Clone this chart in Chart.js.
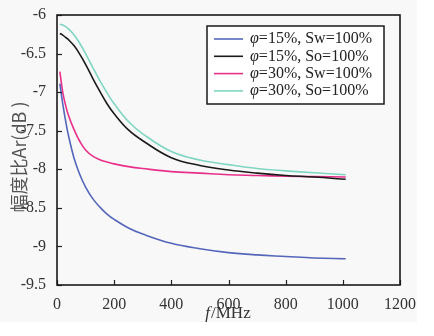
<!DOCTYPE html>
<html>
<head>
<meta charset="utf-8">
<script src="https://cdn.jsdelivr.net/npm/chart.js@4/dist/chart.umd.min.js"></script>
<style>
html,body{margin:0;padding:0;background:#ffffff;}
#wrap{position:absolute;left:0;top:0;width:434px;height:336px;}
#bg{position:absolute;left:0;top:0;width:417px;height:322px;background:#f8f8f8;}
canvas{position:absolute;left:0;top:0;}
</style>
</head>
<body>
<div id="wrap"><div id="bg"></div><canvas id="c" width="434" height="336"></canvas></div>
<script>
// Frequency samples (MHz)
const freq = [10, 20, 30, 40, 60, 80, 100, 125, 150, 175, 200, 250, 300, 400, 500, 600, 700, 800, 900, 1010];
// Amplitude ratio Ar (dB)
const phi15Sw = [-6.89, -7.15, -7.37, -7.56, -7.86, -8.07, -8.23, -8.38, -8.49, -8.58, -8.65, -8.76, -8.84, -8.96, -9.03, -9.08, -9.11, -9.13, -9.15, -9.16];
const phi15So = [-6.24, -6.26, -6.29, -6.32, -6.40, -6.51, -6.64, -6.82, -6.99, -7.15, -7.28, -7.49, -7.63, -7.85, -7.95, -8.01, -8.05, -8.08, -8.10, -8.13];
const phi30Sw = [-6.735, -7.00, -7.17, -7.30, -7.49, -7.64, -7.75, -7.83, -7.875, -7.905, -7.93, -7.965, -7.99, -8.03, -8.05, -8.07, -8.08, -8.09, -8.095, -8.10];
const phi30So = [-6.12, -6.13, -6.15, -6.18, -6.26, -6.37, -6.50, -6.68, -6.85, -7.01, -7.15, -7.38, -7.54, -7.77, -7.88, -7.94, -7.99, -8.02, -8.045, -8.07];
const seriesNames = ["=15%, Sw=100%", "=15%, So=100%", "=30%, Sw=100%", "=30%, So=100%"];
const xTicks = [0, 200, 400, 600, 800, 1000, 1200];
const xTickLabels = ["0", "200", "400", "600", "800", "1000", "1200"];
const yTicks = [-6, -6.5, -7, -7.5, -8, -8.5, -9, -9.5];
const yTickLabels = ["-6", "-6.5", "-7", "-7.5", "-8", "-8.5", "-9", "-9.5"];
const colors = ["#5566bb", "#1a1a1a", "#e8308a", "#7fd6c2"];

const allSeries = [phi15Sw, phi15So, phi30Sw, phi30So];
const datasets = allSeries.map((s, i) => ({
  label: "φ" + seriesNames[i],
  data: freq.map((f, k) => ({x: f, y: s[k]})),
  borderColor: colors[i],
  backgroundColor: colors[i],
  borderWidth: 1.6,
  pointRadius: 0,
  fill: false,
  tension: 0.4
}));

const SERIF = "'Liberation Serif', 'DejaVu Serif', serif";

const decor = {
  id: 'decor',
  afterDraw(chart) {
    const ctx = chart.ctx;
    const a = chart.chartArea;
    const xs = chart.scales.x, ys = chart.scales.y;
    ctx.save();
    ctx.strokeStyle = '#222';
    ctx.lineWidth = 1.2;
    xTicks.forEach(v => {
      const px = Math.round(xs.getPixelForValue(v)) + 0.5;
      ctx.beginPath(); ctx.moveTo(px, a.bottom); ctx.lineTo(px, a.bottom - 5); ctx.stroke();
    });
    yTicks.forEach(v => {
      const py = Math.round(ys.getPixelForValue(v)) + 0.5;
      ctx.beginPath(); ctx.moveTo(a.left, py); ctx.lineTo(a.left + 5, py); ctx.stroke();
    });
    ctx.lineWidth = 1.6;
    ctx.strokeStyle = '#1a1a1a';
    ctx.strokeRect(a.left, a.top, a.right - a.left, a.bottom - a.top);
    // legend
    const lx = 207, ly = 26, lw = 177, lh = 78;
    ctx.fillStyle = '#ffffff';
    ctx.fillRect(lx, ly, lw, lh);
    ctx.lineWidth = 1.5;
    ctx.strokeStyle = '#1a1a1a';
    ctx.strokeRect(lx, ly, lw, lh);
    ctx.textBaseline = 'middle';
    ctx.textAlign = 'left';
    chart.data.datasets.forEach((d, i) => {
      const y = ly + 13 + i * 17.3;
      ctx.strokeStyle = d.borderColor;
      ctx.lineWidth = 1.6;
      ctx.beginPath(); ctx.moveTo(lx + 7, y); ctx.lineTo(lx + 36, y); ctx.stroke();
      ctx.fillStyle = '#222';
      ctx.font = "italic 16px " + SERIF;
      ctx.fillText("φ", lx + 43, y);
      const w = ctx.measureText("φ").width;
      ctx.font = "16px " + SERIF;
      ctx.fillText(seriesNames[i], lx + 43 + w, y);
    });
    // x title
    ctx.fillStyle = '#333';
    ctx.textBaseline = 'alphabetic';
    ctx.font = "italic 17px " + SERIF;
    const t1 = "f", t2 = "/MHz";
    const w1 = ctx.measureText(t1).width;
    ctx.font = "17px " + SERIF;
    const w2 = ctx.measureText(t2).width;
    const cx = (a.left + a.right) / 2 - 1;
    let sx = cx - (w1 + w2) / 2;
    ctx.font = "italic 17px " + SERIF;
    ctx.fillText(t1, sx, 318);
    ctx.font = "17px " + SERIF;
    ctx.fillText(t2, sx + w1 + 1, 318);
    // y title
    ctx.translate(19, 157);
    ctx.rotate(-Math.PI / 2);
    ctx.textAlign = 'center';
    ctx.textBaseline = 'middle';
    ctx.fillStyle = '#555';
    ctx.font = "18px 'Noto Sans CJK SC', 'Noto Sans', sans-serif";
    ctx.fillText("幅度比Ar(dB )", 0, 0);
    ctx.restore();
  }
};

new Chart(document.getElementById('c'), {
  type: 'line',
  data: {datasets},
  options: {
    responsive: false,
    animation: false,
    devicePixelRatio: 1,
    layout: {padding: {left: 0, right: 34, top: 15, bottom: 0}},
    plugins: {legend: {display: false}, tooltip: {enabled: false}},
    scales: {
      x: {
        type: 'linear', min: 0, max: 1200,
        afterBuildTicks: s => { s.ticks = xTicks.map(v => ({value: v})); },
        afterFit: s => { s.height = 51; },
        grid: {display: false},
        border: {display: false},
        ticks: {
          color: '#333', font: {family: SERIF, size: 16}, padding: 2, maxRotation: 0, autoSkip: false,
          callback: (v) => { const k = xTicks.indexOf(v); return k >= 0 ? xTickLabels[k] : ''; }
        }
      },
      y: {
        type: 'linear', min: -9.5, max: -6,
        afterBuildTicks: s => { s.ticks = yTicks.map(v => ({value: v})); },
        afterFit: s => { s.width = 57; },
        grid: {display: false},
        border: {display: false},
        ticks: {
          color: '#333', font: {family: SERIF, size: 16}, padding: 3, autoSkip: false,
          callback: (v) => { const k = yTicks.indexOf(v); return k >= 0 ? yTickLabels[k] : ''; }
        }
      }
    }
  },
  plugins: [decor]
});
</script>
</body>
</html>
